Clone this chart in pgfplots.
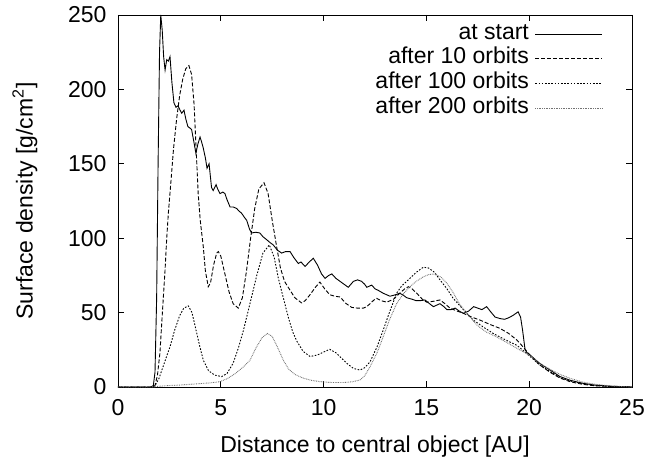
\documentclass[border=0pt]{standalone}
\usepackage{fontspec}
\setmainfont{Liberation Sans}
\usepackage{pgfplots}
\pgfplotsset{compat=1.18}
\newcommand{\bigfont}{\fontsize{23bp}{27bp}\selectfont}
\begin{document}
\begin{tikzpicture}
\begin{axis}[
  scale only axis,
  width=514bp, height=372bp,
  xmin=0, xmax=25, ymin=0, ymax=250,
  xtick={0,5,10,15,20,25},
  ytick={0,50,100,150,200,250},
  tick align=inside,
  major tick length=6bp,
  minor tick num=0,
  axis line style={line width=0.8bp},
  every tick/.style={black, line width=0.8bp},
  /pgf/number format/assume math mode=true,
  tick label style={font=\bigfont},
  xticklabel style={yshift=-9bp},
  yticklabel style={xshift=-8bp},
  xlabel={Distance to central object [AU]},
  ylabel={Surface density [g/cm\textsuperscript{2}]},
  label style={font=\bigfont},
  xlabel style={at={(axis description cs:0.5,0)}, anchor=base, yshift=-65bp},
  ylabel style={at={(axis description cs:-0.150,0.5)}, anchor=south},
  legend plot pos=right,
  legend cell align=right,
  legend style={draw=none, fill=none, font=\bigfont, at={(1,1)}, anchor=north east,
    xshift=-29bp, yshift=-8bp, row sep=3bp, inner sep=0pt,
    nodes={inner sep=0pt, text height=16bp, text depth=5.7bp},
    /tikz/every odd column/.append style={column sep=6bp}},
  legend image code/.code={\draw[#1] (0bp,0bp) -- (67bp,0bp);},
]
\addplot[black, line width=0.9bp] coordinates {
(0,0) (1.6,0) (1.72,1) (1.8,10) (1.88,60) (1.95,150) (2.02,225) (2.08,250) (2.15,240) (2.22,222) (2.29,213) (2.37,220) (2.45,219) (2.53,222) (2.62,205) (2.72,191) (2.82,188) (2.92,189) (3.02,186) (3.1,184) (3.21,186) (3.3,180) (3.4,175) (3.5,174) (3.58,173) (3.7,164) (3.79,157) (3.88,163) (3.99,168) (4.06,165) (4.14,161) (4.25,154) (4.33,147) (4.43,150) (4.55,134) (4.63,132) (4.77,136) (4.85,133) (4.96,130) (5.1,131) (5.2,130) (5.3,126) (5.45,121) (5.6,121) (5.77,120) (5.9,118) (6.0,117) (6.15,114) (6.26,112) (6.4,106) (6.5,103.5) (6.7,104) (6.9,103.5) (7.05,101) (7.23,99) (7.4,97) (7.55,95.5) (7.75,92) (7.96,90) (8.15,91) (8.37,91) (8.55,87) (8.77,83) (8.9,84) (9.1,81) (9.3,84) (9.5,86.5) (9.7,82) (9.9,76) (10.07,73) (10.25,75) (10.4,76) (10.6,73) (10.8,71) (11.0,69) (11.2,67) (11.45,71) (11.65,72) (11.85,71) (12.0,69) (12.1,67) (12.34,68.5) (12.5,66) (12.65,65) (12.9,63) (13.23,61) (13.5,62) (13.7,63) (13.85,62) (14.04,60) (14.3,59) (14.5,58) (14.7,58) (14.93,58.5) (15.15,56) (15.34,54) (15.5,55) (15.66,56) (15.85,54) (16.0,52) (16.2,52) (16.4,53) (16.6,51) (16.8,49.5) (17.05,51) (17.3,54) (17.5,53) (17.7,52) (17.93,54) (18.1,51) (18.34,47) (18.58,46) (18.8,45.5) (19.0,46.5) (19.2,48) (19.46,50.5) (19.58,47) (19.68,38) (19.8,25) (19.9,23) (20.0,22) (20.5,16) (21.0,11.5) (21.5,7) (22.0,4.5) (22.6,2.5) (23.2,1.3) (24.0,0.5) (24.7,0.2) (25,0)
};
\addlegendentry{at start}
\addplot[black, line width=0.9bp, dash pattern=on 4bp off 2bp] coordinates {
(0,0) (1.7,0) (1.8,1) (1.92,8) (2.04,23) (2.15,48) (2.29,79) (2.37,100) (2.45,117) (2.58,139) (2.7,160) (2.85,180) (3.0,196) (3.15,207) (3.3,214) (3.45,216) (3.58,210) (3.7,190) (3.8,160) (3.9,130) (4.0,112) (4.15,94) (4.25,78) (4.39,67.4) (4.5,70) (4.65,82) (4.8,90) (4.88,91) (5.0,88) (5.2,76) (5.4,64) (5.6,56) (5.85,53) (6.05,60) (6.25,78) (6.45,100) (6.65,120) (6.85,133) (7.1,137.3) (7.3,130) (7.5,112) (7.72,94) (7.9,80) (8.1,71) (8.37,65) (8.6,60) (8.93,56.5) (9.1,58) (9.34,62) (9.6,67) (9.82,70.5) (10.05,66) (10.3,62) (10.55,61) (10.8,60.5) (11.1,56) (11.37,53.5) (11.65,53) (11.93,53) (12.1,54) (12.26,56) (12.45,58.5) (12.58,59.6) (12.8,58) (13.07,57) (13.4,59) (13.7,63) (13.95,66) (14.12,67.4) (14.3,66) (14.53,63) (14.8,59) (15.01,57) (15.3,57.5) (15.66,58.5) (15.9,56) (16.15,53) (16.5,51) (16.8,49.5) (17.2,47) (17.6,45) (18.1,42) (18.58,39.4) (19.0,36) (19.4,31.6) (19.7,27) (20.0,22) (20.5,15) (21.0,10) (21.5,6) (22.0,3.5) (22.6,1.8) (23.2,0.8) (24,0.3) (25,0)
};
\addlegendentry{after 10 orbits}
\addplot[black, line width=0.9bp, dash pattern=on 1.6bp off 1.6bp] coordinates {
(0,0) (1.7,0) (1.85,2) (2.0,6) (2.2,14) (2.4,22) (2.53,27) (2.75,38) (3.0,48) (3.2,53) (3.42,54.5) (3.6,50) (3.8,38) (4.0,26) (4.15,18) (4.4,11) (4.7,8) (5.04,7) (5.3,9) (5.6,16) (5.85,26) (6.1,38) (6.4,55) (6.75,75) (7.05,90) (7.36,95.5) (7.6,87) (7.8,73) (8.04,60) (8.3,46) (8.5,37) (8.69,31) (9.0,24) (9.34,20.5) (9.7,21.5) (10.0,23.5) (10.3,25.3) (10.6,23) (10.9,19) (11.12,16) (11.45,12.5) (11.77,11.4) (12.0,13) (12.26,17) (12.6,27) (12.9,38.3) (13.2,50) (13.55,63) (13.8,68) (14.12,72) (14.5,77) (14.85,80.5) (15.1,80) (15.4,77) (15.66,72) (16.0,66) (16.3,59.6) (16.8,52) (17.28,45) (17.8,40) (18.25,36) (18.8,32) (19.4,28) (19.8,23.5) (20.0,21) (20.5,15) (21.0,10.5) (21.5,6.5) (22.0,4) (22.6,2.2) (23.2,1) (24,0.35) (25,0)
};
\addlegendentry{after 100 orbits}
\addplot[black!55, line width=0.9bp, dash pattern=on 0.8bp off 0.9bp] coordinates {
(0,0) (1.7,0) (2.0,0.5) (2.5,1) (3.0,1.3) (3.5,1.8) (4.0,2.3) (4.5,2.8) (4.96,3.6) (5.3,5.5) (5.7,9) (6.1,13.5) (6.42,18) (6.7,26) (7.0,33) (7.26,36) (7.5,34) (7.75,27) (8.04,18) (8.3,12) (8.6,8.5) (9.0,6) (9.4,4.5) (9.82,3.6) (10.4,3) (10.96,3) (11.4,3.5) (11.77,4.7) (12.0,7.5) (12.26,13.6) (12.6,23) (12.9,33.8) (13.2,45) (13.55,56) (13.9,63) (14.2,67.4) (14.5,71) (14.85,74) (15.1,75.5) (15.34,76) (15.7,74) (16.0,69.7) (16.3,63.5) (16.6,56) (17.0,49) (17.45,41.7) (17.9,37) (18.4,33.8) (18.9,30) (19.4,26) (19.8,23) (20.0,21.5) (20.5,16) (21.0,12) (21.5,8.5) (22.0,5.8) (22.6,3.3) (23.2,1.8) (24,0.7) (24.5,0.3) (25,0)
};
\addlegendentry{after 200 orbits}
\end{axis}
\path[use as bounding box] ([xshift=-118bp,yshift=-75bp]current axis.south west) rectangle ([xshift=29bp,yshift=15bp]current axis.north east);
\end{tikzpicture}
\end{document}
